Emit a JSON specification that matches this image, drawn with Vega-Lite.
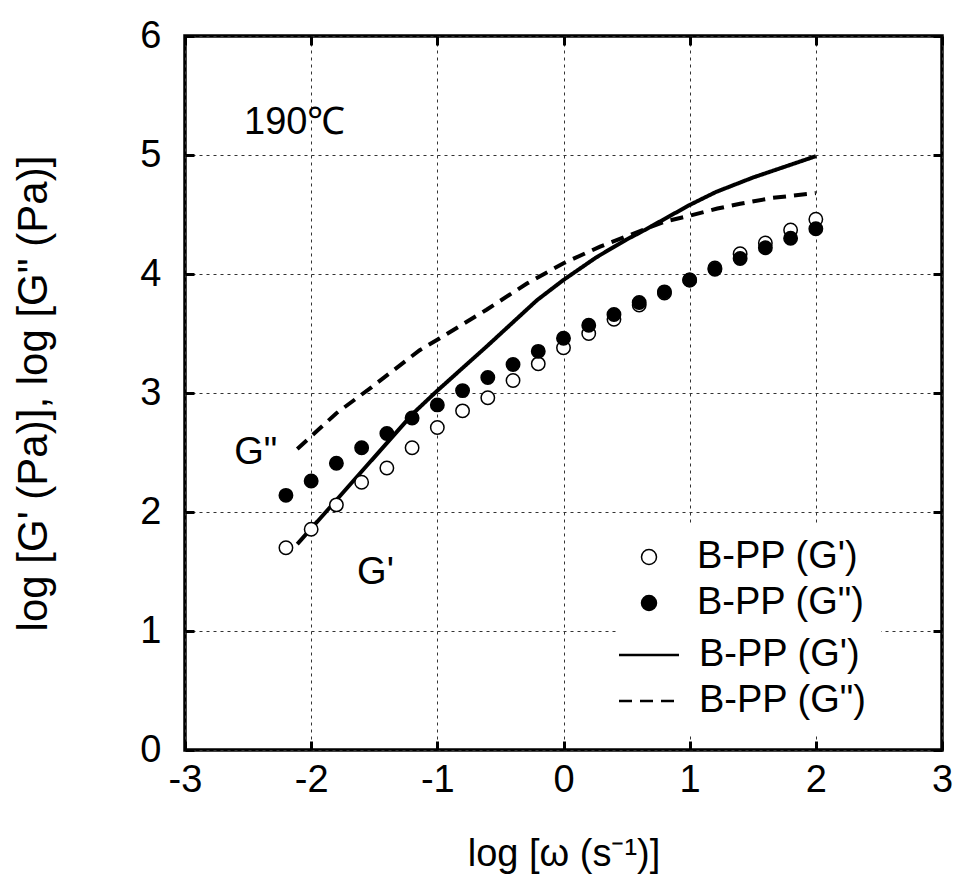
{
  "$schema": "https://vega.github.io/schema/vega-lite/v6.json",
  "width": 757,
  "height": 714,
  "autosize": {"type": "none"},
  "padding": {"left": 185, "top": 36, "right": 17, "bottom": 132},
  "background": "white",
  "config": {
    "view": {"stroke": "black", "strokeWidth": 3.5},
    "font": "Liberation Sans",
    "text": {"font": "Liberation Sans"}
  },
  "datasets": {
    "exp": [
      {"w": -2.2, "G": 1.70, "series": "Gp"},
      {"w": -2.0, "G": 1.855, "series": "Gp"},
      {"w": -1.8, "G": 2.06, "series": "Gp"},
      {"w": -1.6, "G": 2.25, "series": "Gp"},
      {"w": -1.4, "G": 2.37, "series": "Gp"},
      {"w": -1.2, "G": 2.54, "series": "Gp"},
      {"w": -1.0, "G": 2.71, "series": "Gp"},
      {"w": -0.8, "G": 2.85, "series": "Gp"},
      {"w": -0.6, "G": 2.96, "series": "Gp"},
      {"w": -0.4, "G": 3.105, "series": "Gp"},
      {"w": -0.2, "G": 3.245, "series": "Gp"},
      {"w": 0.0, "G": 3.38, "series": "Gp"},
      {"w": 0.2, "G": 3.50, "series": "Gp"},
      {"w": 0.4, "G": 3.62, "series": "Gp"},
      {"w": 0.6, "G": 3.74, "series": "Gp"},
      {"w": 0.8, "G": 3.84, "series": "Gp"},
      {"w": 1.0, "G": 3.95, "series": "Gp"},
      {"w": 1.2, "G": 4.05, "series": "Gp"},
      {"w": 1.4, "G": 4.17, "series": "Gp"},
      {"w": 1.6, "G": 4.26, "series": "Gp"},
      {"w": 1.8, "G": 4.37, "series": "Gp"},
      {"w": 2.0, "G": 4.46, "series": "Gp"},
      {"w": -2.2, "G": 2.14, "series": "Gpp"},
      {"w": -2.0, "G": 2.26, "series": "Gpp"},
      {"w": -1.8, "G": 2.41, "series": "Gpp"},
      {"w": -1.6, "G": 2.54, "series": "Gpp"},
      {"w": -1.4, "G": 2.66, "series": "Gpp"},
      {"w": -1.2, "G": 2.79, "series": "Gpp"},
      {"w": -1.0, "G": 2.90, "series": "Gpp"},
      {"w": -0.8, "G": 3.02, "series": "Gpp"},
      {"w": -0.6, "G": 3.13, "series": "Gpp"},
      {"w": -0.4, "G": 3.24, "series": "Gpp"},
      {"w": -0.2, "G": 3.35, "series": "Gpp"},
      {"w": 0.0, "G": 3.46, "series": "Gpp"},
      {"w": 0.2, "G": 3.57, "series": "Gpp"},
      {"w": 0.4, "G": 3.66, "series": "Gpp"},
      {"w": 0.6, "G": 3.76, "series": "Gpp"},
      {"w": 0.8, "G": 3.85, "series": "Gpp"},
      {"w": 1.0, "G": 3.95, "series": "Gpp"},
      {"w": 1.2, "G": 4.04, "series": "Gpp"},
      {"w": 1.4, "G": 4.13, "series": "Gpp"},
      {"w": 1.6, "G": 4.22, "series": "Gpp"},
      {"w": 1.8, "G": 4.30, "series": "Gpp"},
      {"w": 2.0, "G": 4.38, "series": "Gpp"}
    ],
    "fit": [
      {"w": -2.11, "G": 1.73, "curve": "fitGp"},
      {"w": -1.8, "G": 2.10, "curve": "fitGp"},
      {"w": -1.45, "G": 2.52, "curve": "fitGp"},
      {"w": -1.19, "G": 2.83, "curve": "fitGp"},
      {"w": -1.0, "G": 3.02, "curve": "fitGp"},
      {"w": -0.61, "G": 3.39, "curve": "fitGp"},
      {"w": -0.21, "G": 3.78, "curve": "fitGp"},
      {"w": 0.0, "G": 3.95, "curve": "fitGp"},
      {"w": 0.26, "G": 4.14, "curve": "fitGp"},
      {"w": 0.5, "G": 4.29, "curve": "fitGp"},
      {"w": 0.61, "G": 4.35, "curve": "fitGp"},
      {"w": 1.0, "G": 4.58, "curve": "fitGp"},
      {"w": 1.21, "G": 4.69, "curve": "fitGp"},
      {"w": 1.5, "G": 4.81, "curve": "fitGp"},
      {"w": 2.0, "G": 4.99, "curve": "fitGp"},
      {"w": -2.11, "G": 2.53, "curve": "fitGpp"},
      {"w": -1.8, "G": 2.83, "curve": "fitGpp"},
      {"w": -1.52, "G": 3.05, "curve": "fitGpp"},
      {"w": -1.14, "G": 3.36, "curve": "fitGpp"},
      {"w": -0.98, "G": 3.46, "curve": "fitGpp"},
      {"w": -0.61, "G": 3.70, "curve": "fitGpp"},
      {"w": -0.29, "G": 3.92, "curve": "fitGpp"},
      {"w": 0.0, "G": 4.09, "curve": "fitGpp"},
      {"w": 0.29, "G": 4.23, "curve": "fitGpp"},
      {"w": 0.8, "G": 4.44, "curve": "fitGpp"},
      {"w": 1.0, "G": 4.49, "curve": "fitGpp"},
      {"w": 1.22, "G": 4.55, "curve": "fitGpp"},
      {"w": 1.4, "G": 4.59, "curve": "fitGpp"},
      {"w": 1.66, "G": 4.64, "curve": "fitGpp"},
      {"w": 2.0, "G": 4.68, "curve": "fitGpp"}
    ],
    "notes": [
      {"w": -2.44, "G": 2.50, "label": "G\""},
      {"w": -1.49, "G": 1.49, "label": "G'"},
      {"w": -2.13, "G": 5.27, "label": "190℃"}
    ]
  },
  "layer": [
    {
      "data": {"name": "fit"},
      "mark": {"type": "line", "color": "black", "strokeWidth": 4},
      "encoding": {
        "x": {
          "field": "w", "type": "quantitative",
          "scale": {"domain": [-3, 3], "nice": false, "zero": false},
          "axis": {
            "orient": "bottom", "values": [-3, -2, -1, 0, 1, 2, 3],
            "labelExpr": "toString(datum.value)",
            "grid": true, "gridDash": [3, 4], "gridColor": "#333333", "gridWidth": 1, "gridOpacity": 1,
            "domain": false, "ticks": true, "tickSize": -9, "tickWidth": 3, "tickColor": "black",
            "labelFontSize": 38, "labelFont": "Liberation Sans", "labelColor": "black", "labelPadding": 20,
            "labelFlush": false, "labelOverlap": false,
            "title": "log [ω (s⁻¹)]", "titleFontSize": 38, "titleFont": "Liberation Sans",
            "titleFontWeight": "normal", "titleColor": "black", "titlePadding": 36
          }
        },
        "y": {
          "field": "G", "type": "quantitative",
          "scale": {"domain": [0, 6], "nice": false, "zero": false},
          "axis": {
            "orient": "left", "values": [0, 1, 2, 3, 4, 5, 6],
            "labelExpr": "toString(datum.value)",
            "grid": true, "gridDash": [3, 4], "gridColor": "#333333", "gridWidth": 1, "gridOpacity": 1,
            "domain": false, "ticks": true, "tickSize": -9, "tickWidth": 3, "tickColor": "black",
            "labelFontSize": 38, "labelFont": "Liberation Sans", "labelColor": "black", "labelPadding": 33,
            "labelFlush": false, "labelOverlap": false,
            "title": "log [G' (Pa)], log [G\" (Pa)]", "titleFontSize": 42, "titleFont": "Liberation Sans",
            "titleFontWeight": "normal", "titleColor": "black", "titlePadding": 84
          }
        },
        "strokeDash": {
          "field": "curve", "type": "nominal",
          "scale": {"domain": ["fitGp", "fitGpp"], "range": [[1, 0], [13, 8]]},
          "legend": {
            "orient": "none", "legendX": 431, "legendY": 586, "title": null,
            "labelExpr": "datum.value == 'fitGp' ? \"B-PP (G')\" : 'B-PP (G\")'",
            "symbolType": "M-2,0H2", "symbolSize": 900, "symbolStrokeColor": "black",
            "symbolStrokeWidth": 2.5, "symbolFillColor": "transparent", "symbolDash": [9, 8],
            "labelFontSize": 38, "labelFont": "Liberation Sans", "labelColor": "black",
            "labelOffset": 31, "rowPadding": 8, "padding": 14, "fillColor": "white",
            "labelLimit": 400
          }
        }
      }
    },
    {
      "data": {"name": "exp"},
      "mark": {"type": "point", "shape": "circle", "filled": true, "size": 180, "stroke": "black", "strokeWidth": 1.5, "opacity": 1},
      "encoding": {
        "x": {
          "field": "w", "type": "quantitative",
          "axis": {
            "orient": "top", "values": [-3, -2, -1, 0, 1, 2, 3], "labels": false, "grid": false,
            "domain": false, "tickSize": -9, "tickWidth": 3, "tickColor": "black", "title": null
          }
        },
        "y": {
          "field": "G", "type": "quantitative",
          "axis": {
            "orient": "right", "values": [0, 1, 2, 3, 4, 5, 6], "labels": false, "grid": false,
            "domain": false, "tickSize": -9, "tickWidth": 3, "tickColor": "black", "title": null
          }
        },
        "fill": {
          "field": "series", "type": "nominal",
          "scale": {"domain": ["Gp", "Gpp"], "range": ["white", "black"]},
          "legend": {
            "orient": "none", "legendX": 431, "legendY": 488, "title": null,
            "labelExpr": "datum.value == 'Gp' ? \"B-PP (G')\" : 'B-PP (G\")'",
            "symbolType": "circle", "symbolSize": 225, "symbolStrokeColor": "black",
            "symbolStrokeWidth": 1.5, "symbolOpacity": 1,
            "labelFontSize": 38, "labelFont": "Liberation Sans", "labelColor": "black",
            "labelOffset": 29, "rowPadding": 8, "padding": 14, "fillColor": "white",
            "labelLimit": 400
          }
        }
      }
    },
    {
      "data": {"name": "notes"},
      "mark": {"type": "text", "fontSize": 38, "font": "Liberation Sans", "align": "center", "baseline": "middle", "color": "black"},
      "encoding": {
        "x": {"field": "w", "type": "quantitative", "axis": null},
        "y": {"field": "G", "type": "quantitative", "axis": null},
        "text": {"field": "label"}
      }
    }
  ]
}
